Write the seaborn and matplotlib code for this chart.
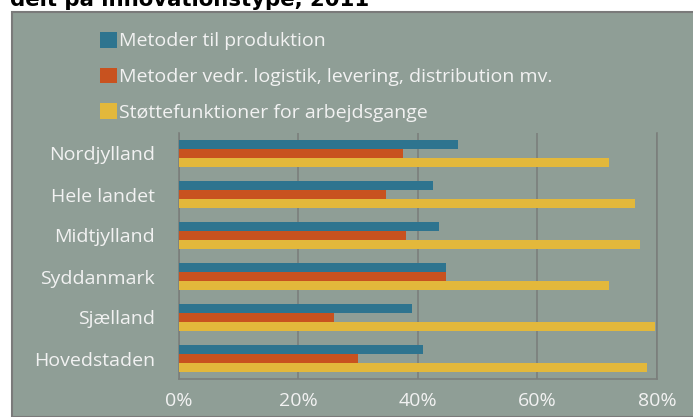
import pandas as pd
import numpy as np
import matplotlib.pyplot as plt
import seaborn as sns
from matplotlib.patches import Patch, Rectangle
from matplotlib.ticker import FuncFormatter

# data (percent of firms)
regions = ['Nordjylland', 'Hele landet', 'Midtjylland', 'Syddanmark', 'Sjælland', 'Hovedstaden']
series = ['Metoder til produktion',
          'Metoder vedr. logistik, levering, distribution mv.',
          'Støttefunktioner for arbejdsgange']
produktion = [46.7, 42.6, 43.5, 44.7, 39.0, 40.8]
logistik = [37.5, 34.7, 38.0, 44.7, 26.0, 30.0]
stotte = [72.0, 76.3, 77.2, 72.0, 79.6, 78.4]
xticks = [0, 20, 40, 60, 80]

colors = ['#2e748f', '#c8521f', '#e3b83b']
bg = '#8f9e96'
txt = '#f2f2f2'

df = pd.DataFrame({
    'region': regions * 3,
    'serie': [series[0]] * 6 + [series[1]] * 6 + [series[2]] * 6,
    'value': produktion + logistik + stotte,
})

sns.set_style('white')
plt.rcParams['font.family'] = ['Open Sans', 'DejaVu Sans']

fig = plt.figure(figsize=(6.93, 4.17), dpi=100, facecolor='white')

# grey chart panel with border
fig.patches.append(Rectangle((12 / 693, 0), 1, 1 - 12 / 417, transform=fig.transFigure,
                             facecolor=bg, edgecolor='#7a7a7a', lw=1.5, zorder=-10))

# cut-off title at the top
fig.text(10 / 693, 1 - 6 / 417, 'delt på innovationstype, 2011', family='DejaVu Sans',
         fontweight='bold', fontsize=15.3, color='black', va='baseline', ha='left')

ax = fig.add_axes([178.7 / 693, 1 - 379 / 417, (657 - 178.7) / 693, (379 - 133) / 417])
ax.set_facecolor(bg)

sns.barplot(data=df, y='region', x='value', hue='serie', palette=colors, orient='h',
            width=0.66, order=regions, hue_order=series, ax=ax, legend=False,
            saturation=1, edgecolor='none', zorder=3)

ax.set_xlim(0, 80)
ax.set_xticks(xticks)
ax.xaxis.set_major_formatter(FuncFormatter(lambda v, p: f'{v:.0f}%'))
ax.grid(axis='x', color='#7b7f7c', lw=1.2, zorder=0)
ax.set_axisbelow(True)
ax.set_xlabel('')
ax.set_ylabel('')

for s in ['left', 'bottom', 'right']:
    ax.spines[s].set_color('#7b7f7c')
    ax.spines[s].set_linewidth(1.2)
ax.spines['top'].set_visible(False)

ax.tick_params(axis='y', length=0, pad=17, labelsize=14, labelcolor=txt)
ax.tick_params(axis='x', length=0, pad=9, labelsize=14, labelcolor=txt)

handles = [Patch(facecolor=c, edgecolor='none') for c in colors]
fig.legend(handles, series, loc='upper left', bbox_to_anchor=(100 / 693, 1 - 32 / 417),
           frameon=False, fontsize=14, labelcolor=txt, handlelength=0.85, handleheight=0.85,
           handletextpad=0.12, labelspacing=0.88, borderpad=0, borderaxespad=0)

plt.savefig('out.png', dpi=100, facecolor='white')
